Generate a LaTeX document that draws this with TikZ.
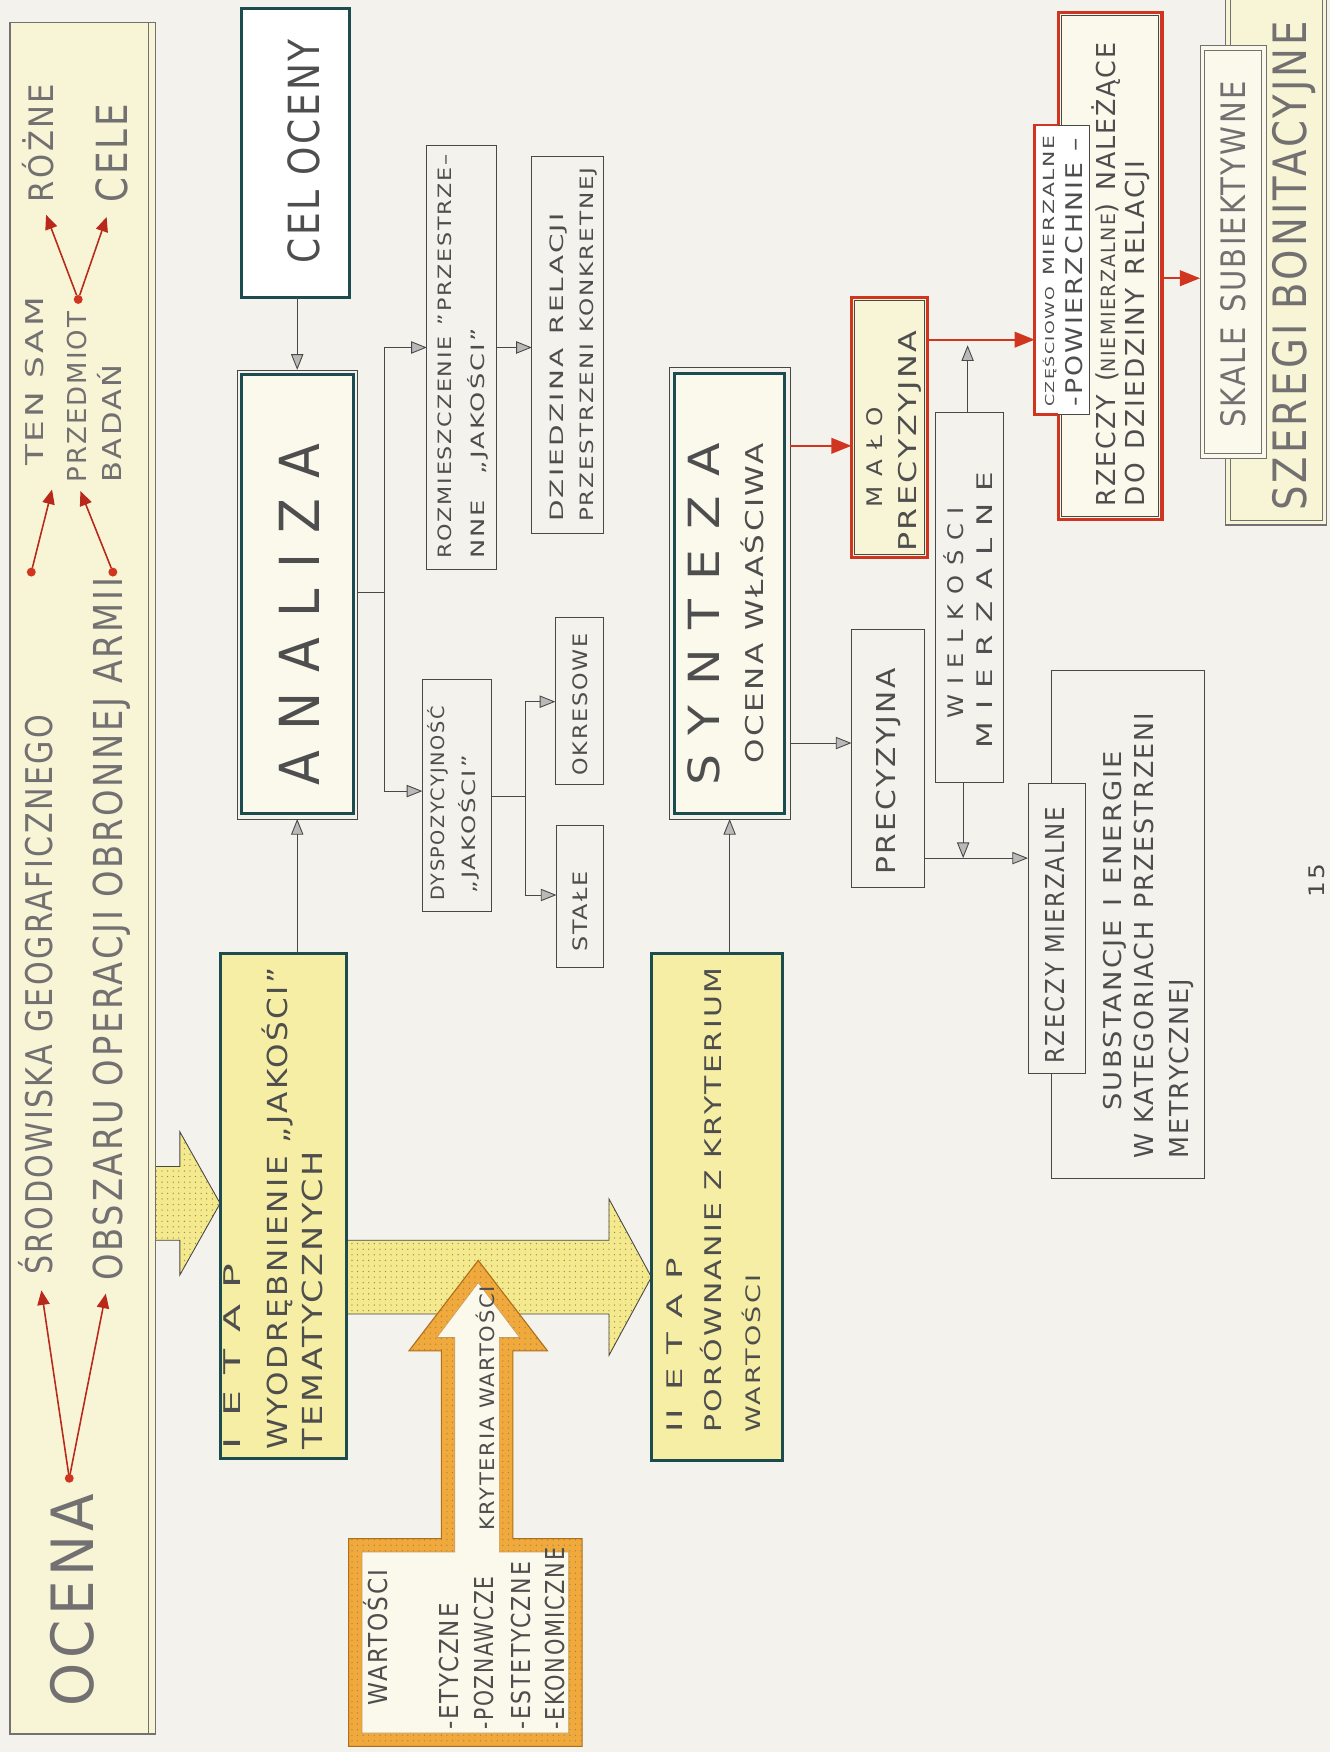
\documentclass[tikz,border=0pt]{standalone}
\usepackage{fontspec}
\setmainfont{DejaVu Sans}[LetterSpace=8]
\usetikzlibrary{arrows.meta,fit,calc,patterns.meta}
\pgfdeclarelayer{paperlayer}
\pgfdeclarelayer{underlayer}
\pgfsetlayers{paperlayer,underlayer,main}

\definecolor{paper}{HTML}{F3F2EC}
\definecolor{ink}{HTML}{4E4E4E}
\definecolor{stampgray}{HTML}{727070}
\definecolor{lineink}{HTML}{4A4846}
\definecolor{tealframe}{HTML}{1D4C50}
\definecolor{pencilyellow}{HTML}{F5EEA4}
\definecolor{paleyellow}{HTML}{F8F4D6}
\definecolor{creamfill}{HTML}{FAF9EC}
\definecolor{redframe}{HTML}{D0361F}
\definecolor{arrowred}{HTML}{B8281B}
\definecolor{orangeband}{HTML}{F0A93A}
\definecolor{orangedark}{HTML}{B06E1A}
\definecolor{arrowyellow}{HTML}{F4E98C}
\definecolor{dotgray}{HTML}{8C8660}

% one line of lettering: length along the line, cap height, text
\newcommand\lbl[3]{\resizebox{#1pt}{#2pt}{\raisebox{0pt}[\fontcharht\font`H][0pt]{#3}}}

\begin{document}
\begin{tikzpicture}[x=1pt, y=-1pt,
  every node/.style={inner sep=0pt, outer sep=0pt},
  boxframe/.style={draw=lineink, line width=0.8pt},
  tealbox/.style={draw=tealframe, line width=2.6pt},
  redbox/.style={draw=redframe, line width=2.8pt},
  stampline/.style={draw=stampgray, line width=1.3pt},
  txt/.style={rotate=90, anchor=west, text=ink},
  stamp/.style={rotate=90, anchor=west, text=stampgray},
  garrow/.style={draw=lineink, line width=0.8pt, -{Triangle[length=14pt,width=11pt,fill=gray!55]}},
  rarrow/.style={draw=redframe, line width=1.8pt, -{Triangle[length=18pt,width=14pt]}},
  harrow/.style={draw=arrowred, line width=1.4pt, -{Triangle[length=13pt,width=11pt]}},
  reddot/.style={circle, fill=redframe, minimum size=8pt},
  dotted fill/.style={preaction={fill=#1}, pattern={Dots[distance=5pt,radius=0.6pt]}, pattern color=dotgray}
]
\useasboundingbox (0,0) rectangle (1190,1568);
\begin{pgfonlayer}{paperlayer}
  \fill[paper] (0,0) rectangle (1190,1568);
\end{pgfonlayer}

% ---------- header strip ----------
\node[stampline, fill=paleyellow, fit={(9,20) (139,1552)}] (hdr) {};
\draw[stampline] ([xshift=-6pt]hdr.north east) -- ([xshift=-6pt]hdr.south east);

\node[stamp] (rozne) at (37,181) {\lbl{106}{22}{RÓŻNE}};
\node[stamp] (cele) at (100,181) {\lbl{88}{28}{CELE}};
\node[stamp] (tensam) at (31,417) {\lbl{151}{16}{TEN SAM}};
\node[stamp] (przedmiot) at (69,432) {\lbl{153}{17}{PRZEDMIOT}};
\node[stamp] (badan) at (100,432) {\lbl{106}{17}{BADAŃ}};
\node[stamp] (srod) at (35,1141) {\lbl{501}{24}{ŚRODOWISKA GEOGRAFICZNEGO}};
\node[stamp] (obsz) at (97,1146) {\lbl{629}{26}{OBSZARU OPERACJI OBRONNEJ ARMII}};
\node[stamp] (ocena) at (65,1527) {\lbl{190}{38}{OCENA}};

\node[reddot] (dotP) at (70,268) {};
\node[reddot] (dotL) at (28,512) {};
\node[reddot] (dotR) at (101,512) {};
\node[reddot] (dotO) at (62,1323) {};

\draw[harrow, shorten >=12pt] (dotP) -- (rozne.west);
\draw[harrow, shorten >=14pt] (dotP) -- (cele.west);
\draw[harrow, shorten >=14pt] (dotL) -- ($(tensam.west)!0.5!(przedmiot.west)$);
\draw[harrow, shorten >=8pt] (dotR) -- (przedmiot.west);
\draw[harrow, shorten >=14pt] (dotO) -- (srod.west);
\draw[harrow, shorten >=12pt] (dotO) -- (obsz.west);

% ---------- main column ----------
\node[tealbox, fill=white, fit={(216,8) (313,266)}] (cel) {};
\node[txt] (tCel) at (272,236) {\lbl{201}{28}{CEL OCENY}};

\node[boxframe, line width=0.6pt, fit={(212,331) (320,733)}] (analizaO) {};
\node[tealbox, fill=creamfill, fit={(216,335) (316,728)}] (analiza) {};
\node[txt] (tAnaliza) at (268,703) {\lbl{306}{36}{A N A L I Z A}};

\node[tealbox, fill=pencilyellow, fit={(197,853) (310,1305)}] (ietap) {};
\node[txt] (t1a) at (208,1297) {\lbl{166}{15}{I\enspace E T A P}};
\node[txt] (t1b) at (248,1297) {\lbl{431}{18}{WYODRĘBNIENIE „JAKOŚCI”}};
\node[txt] (t1c) at (280,1297) {\lbl{267}{18}{TEMATYCZNYCH}};

\node[tealbox, fill=pencilyellow, fit={(583,853) (700,1307)}] (iietap) {};
\node[txt] (t2a) at (604,1282) {\lbl{156}{14}{II\enspace E T A P}};
\node[txt] (t2b) at (638,1282) {\lbl{416}{15}{PORÓWNANIE Z KRYTERIUM}};
\node[txt] (t2c) at (674,1282) {\lbl{141}{13}{WARTOŚCI}};

\node[boxframe, line width=0.6pt, fit={(599,329) (707,733)}] (syntezaO) {};
\node[tealbox, fill=creamfill, fit={(604,334) (702,728)}] (synteza) {};
\node[txt] (tSyn) at (630,703) {\lbl{306}{28}{S Y N T E Z A}};
\node[txt] (tSyn2) at (675,683) {\lbl{286}{16}{OCENA WŁAŚCIWA}};

% ---------- branches of the analysis ----------
\node[boxframe, fit={(382,130) (444,510)}] (rozm) {};
\node[txt] (tR1) at (398,500) {\lbl{362}{12}{ROZMIESZCZENIE\enspace ”PRZESTRZE–}};
\node[txt] (tR2) at (428,500) {\lbl{206}{12}{NNE\quad „JAKOŚCI”}};

\node[boxframe, fit={(476,140) (540,477)}] (dzied) {};
\node[txt] (tD1) at (498,467) {\lbl{276}{12}{DZIEDZINA\enspace RELACJI}};
\node[txt] (tD2) at (525,467) {\lbl{317}{12}{PRZESTRZENI\enspace KONKRETNEJ}};

\node[boxframe, fit={(378,608) (440,816)}] (dysp) {};
\node[txt] (tY1) at (392,806) {\lbl{174}{12}{DYSPOZYCYJNOŚĆ}};
\node[txt] (tY2) at (420,800) {\lbl{124}{12}{„JAKOŚCI”}};

\node[boxframe, fit={(497,553) (540,702)}] (okres) {};
\node[txt] (tO) at (519,694) {\lbl{127}{13}{OKRESOWE}};

\node[boxframe, fit={(498,739) (540,866)}] (stale) {};
\node[txt] (tS) at (519,852) {\lbl{72}{13}{STAŁE}};

% ---------- synthesis branches ----------
\node[redbox, fill=paleyellow, fit={(762,266) (830,499)}] (malo) {};
\draw[lineink, line width=0.6pt] ([shift={(3pt,-3pt)}]malo.north west) rectangle ([shift={(-3pt,3pt)}]malo.south east);
\node[txt] (tM1) at (783,454) {\lbl{90}{14}{M A Ł O}};
\node[txt] (tM2) at (812,494) {\lbl{198}{16}{PRECYZYJNA}};

\node[boxframe, fit={(837,369) (898,700)}] (wielk) {};
\node[txt] (tW1) at (855,643) {\lbl{189}{14}{W I E L K O Ś C I}};
\node[txt] (tW2) at (881,670) {\lbl{248}{14}{M I E R Z A L N E}};

\node[boxframe, fit={(762,563) (827,794)}] (prec) {};
\node[txt] (tP) at (793,783) {\lbl{185}{17}{PRECYZYJNA}};

\node[boxframe, fit={(941,600) (1078,1055)}] (subst) {};
\node[txt] (tU1) at (996,994) {\lbl{322}{16}{SUBSTANCJE\enspace I\enspace ENERGIE}};
\node[txt] (tU2) at (1024,1037) {\lbl{399}{17}{W KATEGORIACH\enspace PRZESTRZENI}};
\node[txt] (tU3) at (1055,1037) {\lbl{161}{17}{METRYCZNEJ}};

\node[boxframe, fill=paper, fit={(920,701) (971,961)}] (rzm) {};
\node[txt] (tZ) at (944,952) {\lbl{230}{17}{RZECZY MIERZALNE}};

\node[redbox, fill=creamfill, fit={(947,11) (1040,465)}] (rzn) {};
\draw[lineink, line width=0.6pt] ([shift={(3pt,-3pt)}]rzn.north west) rectangle ([shift={(-3pt,3pt)}]rzn.south east);
\node[txt] (tN1) at (990,453) {\lbl{415}{17}{RZECZY\enspace(\scalebox{0.75}{NIEMIERZALNE})\enspace NALEŻĄCE}};
\node[txt] (tN2) at (1016,453) {\lbl{309}{17}{DO\enspace DZIEDZINY\enspace RELACJI}};

\node[boxframe, fill=white, fit={(926,112) (975,371)}] (czesc) {};
\draw[redframe, line width=2.4pt] (czesc.north west -| rzn.west) -- (czesc.north west) -- (czesc.south west) -- (czesc.south west -| rzn.west);
\node[txt] (tC1) at (939,364) {\lbl{243}{10}{\scalebox{0.8}{CZĘŚCIOWO}\enspace MIERZALNE}};
\node[txt] (tC2) at (961,364) {\lbl{240}{15}{-POWIERZCHNIE –}};

% ---------- scales ----------
\node[stampline, fill=paleyellow, fit={(1097,-10) (1187,470)}] (szer) {};
\draw[stampgray, line width=0.6pt] ([shift={(4pt,0pt)}]szer.north west) -- ([shift={(4pt,4pt)}]szer.south west) -- ([shift={(-4pt,4pt)}]szer.south east) -- ([shift={(-4pt,0pt)}]szer.north east);
\node[stamp] (tG) at (1154,457) {\lbl{438}{30}{SZEREGI BONITACYJNE}};

\node[draw=stampgray, line width=0.8pt, fill=creamfill, fit={(1074,41) (1133,410)}] (skaleO) {};
\node[draw=stampgray, line width=0.8pt, fit={(1078,45) (1129,406)}] (skale) {};
\node[stamp] (tK) at (1104,383) {\lbl{310}{22}{SKALE\enspace SUBIEKTYWNE}};

\node[txt, text=lineink] (pnum) at (1178,803) {\lbl{30}{14}{15}};

% ---------- connectors ----------
\draw[garrow] (cel.south -| analizaO.north) -- (analizaO.north);
\draw[garrow] (ietap.north -| analizaO.south) -- (analizaO.south);
\draw[garrow] (iietap.north -| syntezaO.south) -- (syntezaO.south);

\coordinate (br1) at (344,530);
\draw[lineink, line width=0.8pt] (analizaO.east |- br1) -- (br1);
\draw[garrow] (br1) |- (rozm.west |- 0,311);
\draw[garrow] (br1) |- (dysp.west |- 0,708);
\draw[garrow] (rozm.east |- 0,311) -- (dzied.west |- 0,311);

\coordinate (br2) at (470,713);
\draw[lineink, line width=0.8pt] (dysp.east |- br2) -- (br2);
\draw[garrow] (br2) |- (okres.west |- 0,628);
\draw[garrow] (br2) |- (stale.west |- 0,801);

\draw[rarrow] (syntezaO.east |- 0,399) -- (malo.west |- 0,399);
\draw[garrow] (syntezaO.east |- 0,665) -- (prec.west |- 0,665);
\draw[rarrow] (malo.east |- 0,304) -- (czesc.west |- 0,304);
\coordinate (wup) at (866,309);
\draw[garrow] (wielk.north -| wup) -- (wup);
\coordinate (jr) at (862,768);
\draw[garrow] (prec.east |- jr) -- (rzm.west |- jr);
\draw[garrow] (wielk.south -| jr) -- (jr);
\draw[rarrow] (rzn.east |- 0,249) -- (skaleO.west |- 0,249);

% ---------- broad arrows ----------
\begin{pgfonlayer}{underlayer}
  \coordinate (a1s) at (hdr.east |- 0,1077);
  \coordinate (a1e) at (ietap.west |- 0,1077);
  \path[dotted fill=arrowyellow, draw=lineink, line width=0.8pt]
    ($(a1s)+(0,-33)$) -- ($(a1e)+(-36,-33)$) -- ($(a1e)+(-36,-64)$) -- (a1e)
    -- ($(a1e)+(-36,64)$) -- ($(a1e)+(-36,33)$) -- ($(a1s)+(0,33)$) -- cycle;

  \coordinate (a2s) at (ietap.east |- 0,1143);
  \coordinate (a2e) at (iietap.west |- 0,1143);
  \path[dotted fill=arrowyellow, draw=lineink, line width=0.8pt]
    ($(a2s)+(0,-33)$) -- ($(a2e)+(-38,-33)$) -- ($(a2e)+(-38,-70)$) -- (a2e)
    -- ($(a2e)+(-38,70)$) -- ($(a2e)+(-38,33)$) -- ($(a2s)+(0,33)$) -- cycle;

  % value criteria: box with a rising arrow
  \path[dotted fill=orangeband, draw=orangedark, line width=1pt]
    (312,1563) -- (312,1377) -- (395,1377) -- (395,1209) -- (366,1209) -- (428,1128)
    -- (490,1209) -- (459,1209) -- (459,1377) -- (521,1377) -- (521,1563) -- cycle;
  \path[fill=creamfill, draw=orangedark!70, line width=0.5pt]
    (324,1551) -- (324,1389) -- (407,1389) -- (407,1197) -- (391,1197) -- (428,1148)
    -- (465,1197) -- (447,1197) -- (447,1389) -- (509,1389) -- (509,1551) -- cycle;
\end{pgfonlayer}

\node[txt] (tKr) at (436,1370) {\lbl{219}{13}{KRYTERIA WARTOŚCI}};
\node[txt] (tV0) at (338,1526) {\lbl{121}{17}{WARTOŚCI}};
\node[txt] (tV1) at (402,1548) {\lbl{113}{17}{-ETYCZNE}};
\node[txt] (tV2) at (433,1548) {\lbl{137}{17}{-POZNAWCZE}};
\node[txt] (tV3) at (466,1548) {\lbl{150}{17}{-ESTETYCZNE}};
\node[txt] (tV4) at (497,1548) {\lbl{163}{17}{-EKONOMICZNE}};
\end{tikzpicture}
\end{document}
